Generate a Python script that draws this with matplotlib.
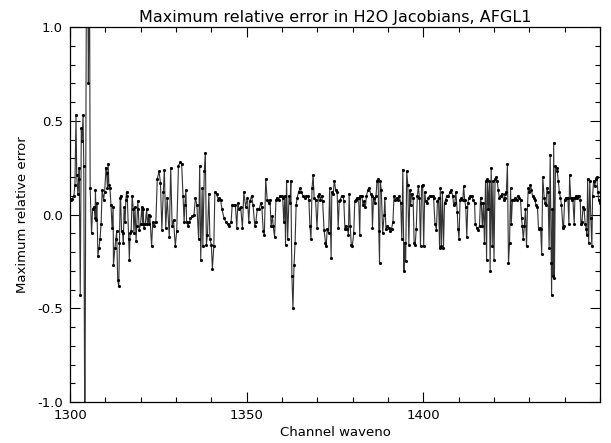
import numpy as np
import matplotlib
matplotlib.use("Agg")
import matplotlib.pyplot as plt
from matplotlib.ticker import MultipleLocator, FormatStrFormatter

# channel wavenumbers (cm-1) and max relative error
waveno = [
    1300.2, 1300.6, 1301.1, 1301.4, 1301.7, 1301.9, 1302.2, 1302.5, 1302.6, 1302.9,
    1303.2, 1303.4, 1303.7, 1303.9, 1304.2, 1304.7, 1305.0, 1305.2, 1305.5, 1305.7,
    1306.1, 1306.4, 1306.8, 1307.1, 1307.2, 1307.4, 1307.6, 1307.9, 1308.2, 1308.5,
    1308.8, 1309.1, 1309.5, 1309.8, 1310.2, 1310.4, 1310.6, 1310.8, 1311.0, 1311.3,
    1311.6, 1311.9, 1312.2, 1312.3, 1312.7, 1313.0, 1313.2, 1313.5, 1313.8, 1314.0,
    1314.2, 1314.3, 1314.6, 1314.9, 1315.1, 1315.3, 1315.6, 1315.8, 1316.0, 1316.2,
    1316.6, 1316.8, 1317.0, 1317.3, 1317.6, 1317.9, 1318.1, 1318.4, 1318.7, 1318.9,
    1319.2, 1319.3, 1319.6, 1320.0, 1320.3, 1320.6, 1320.7, 1320.9, 1321.3, 1321.7,
    1321.9, 1322.3, 1322.4,
    1322.6, 1323.1, 1323.4, 1323.8, 1324.3, 1324.7, 1325.2, 1325.6, 1326.0, 1326.4,
    1326.7, 1327.1, 1327.5, 1328.1, 1328.5, 1328.9, 1329.3, 1329.8, 1330.2, 1330.7,
    1331.2, 1331.6, 1332.0, 1332.3, 1332.5, 1332.8, 1333.0, 1333.4, 1333.8, 1334.1,
    1334.6, 1335.1, 1335.5, 1335.9, 1336.4, 1336.7, 1337.0, 1337.4, 1337.6, 1338.0,
    1338.3, 1338.6, 1338.9, 1339.3, 1339.6, 1340.0, 1340.3, 1340.7, 1341.0, 1341.5,
    1341.9, 1342.3, 1342.6, 1343.0, 1343.6, 1344.1, 1344.6, 1345.1, 1345.6, 1345.9,
    1346.4, 1346.8, 1347.2, 1347.5, 1347.9, 1348.3, 1348.8, 1349.2, 1349.7, 1350.2,
    1350.6, 1350.9, 1351.4, 1351.8, 1352.3, 1352.6, 1353.0, 1353.5, 1354.0, 1354.3,
    1354.7, 1355.0, 1355.4, 1355.8, 1356.2,
    1356.6, 1356.9, 1357.3, 1357.5, 1357.9, 1358.3, 1358.7, 1359.1, 1359.4, 1359.9,
    1360.2, 1360.5, 1360.8, 1361.0, 1361.3, 1361.6, 1362.0, 1362.3, 1362.5, 1362.8,
    1363.1, 1363.4, 1363.7, 1364.0, 1364.3, 1364.7, 1365.1, 1365.5, 1365.9, 1366.4,
    1366.8, 1367.3, 1367.6, 1367.9, 1368.2, 1368.5, 1368.8, 1369.1, 1369.5, 1369.9,
    1370.3, 1370.6, 1370.8, 1371.2, 1371.5, 1371.9, 1372.3, 1372.5, 1372.8, 1373.2,
    1373.5, 1373.9, 1374.1, 1374.5, 1374.8, 1375.2, 1375.6, 1375.9, 1376.2, 1376.5,
    1376.9, 1377.3, 1377.5, 1377.8, 1378.1, 1378.5, 1378.8, 1379.0, 1379.3, 1379.6,
    1379.9, 1380.3, 1380.6, 1380.9, 1381.3, 1381.7, 1382.0, 1382.2, 1382.6, 1382.9,
    1383.2, 1383.6, 1383.9, 1384.3, 1384.7, 1385.1, 1385.4, 1385.6, 1385.9, 1386.3,
    1386.6, 1386.9, 1387.2, 1387.4, 1387.6, 1387.8, 1388.1, 1388.5, 1388.9, 1389.1,
    1389.4, 1389.8, 1390.2,
    1390.6, 1391.0, 1391.4, 1391.7, 1392.1, 1392.5, 1392.9, 1393.2, 1393.6, 1393.9,
    1394.2, 1394.5, 1394.7, 1395.0, 1395.3, 1395.6, 1395.9, 1396.2, 1396.4, 1396.7,
    1397.1, 1397.4, 1397.7, 1398.0, 1398.3, 1398.6, 1398.9, 1399.2, 1399.5, 1399.8,
    1400.1, 1400.4, 1400.7, 1401.1, 1401.4, 1401.8, 1402.2, 1402.6, 1402.9, 1403.3,
    1403.7, 1404.0, 1404.3, 1404.6, 1404.8, 1405.1, 1405.4, 1405.7, 1406.0, 1406.3,
    1406.7, 1407.1, 1407.6, 1407.9, 1408.3, 1408.6, 1408.9, 1409.2, 1409.6, 1409.8,
    1410.1, 1410.4, 1410.8, 1411.2, 1411.4, 1411.7, 1412.0, 1412.3, 1412.6, 1412.9,
    1413.2, 1413.7, 1414.1, 1414.5, 1414.7, 1415.1, 1415.5, 1415.9, 1416.2, 1416.4,
    1416.7, 1417.0, 1417.3, 1417.6, 1417.9, 1418.1, 1418.4, 1418.7,
    1418.9, 1419.2, 1419.5, 1419.7, 1420.0, 1420.3, 1420.6, 1420.9, 1421.2, 1421.5,
    1421.9, 1422.3, 1422.7, 1423.0, 1423.2, 1423.5, 1423.8, 1424.1, 1424.4, 1424.7,
    1424.9, 1425.2, 1425.6, 1426.0, 1426.4, 1426.7, 1427.1, 1427.5, 1427.8, 1428.0,
    1428.3, 1428.6, 1428.9, 1429.2, 1429.5, 1429.7, 1430.0, 1430.3, 1430.6, 1430.9,
    1431.2, 1431.5, 1431.9, 1432.3, 1432.6, 1432.9, 1433.2, 1433.5, 1433.8, 1434.2,
    1434.5, 1434.7, 1435.0, 1435.3, 1435.6, 1435.9, 1436.2, 1436.3, 1436.5, 1436.7,
    1436.9, 1437.1, 1437.4, 1437.7, 1437.9, 1438.2, 1438.5, 1438.8, 1439.1, 1439.5,
    1439.7, 1440.0, 1440.3, 1440.6, 1440.9, 1441.2, 1441.4, 1441.7, 1442.0, 1442.3,
    1442.7, 1442.9, 1443.2, 1443.5, 1443.8, 1444.1, 1444.4, 1444.6, 1444.9, 1445.2,
    1445.5, 1445.8, 1446.1, 1446.3, 1446.5, 1446.8, 1447.1, 1447.4, 1447.7, 1447.9,
    1448.2, 1448.5, 1448.8, 1449.1, 1449.4, 1449.6, 1449.9,
]

max_rel_err = [
    0.08, 0.085, 0.10, 0.16, 0.53, 0.21, 0.11, 0.19, 0.25, -0.43,
    0.46, 0.39, 0.53, 0.26, -1.3, 1.6, 1.4, 0.70, 1.5, 0.14,
    -0.10, 0.03, 0.04, -0.02, 0.13, -0.03, 0.06, -0.22, -0.18, -0.13,
    -0.05, 0.13, 0.08, 0.12, 0.25, 0.22, 0.14, 0.27, 0.16, 0.14,
    0.05, -0.07, 0.04, -0.27, -0.18, -0.13, -0.09, -0.35, -0.38, -0.15,
    0.09, 0.10, -0.09, -0.10, -0.15, 0.04, -0.04, 0.08, 0.12, 0.10,
    -0.13, -0.24, -0.10, -0.09, 0.10, 0.03, -0.10, 0.04, -0.14, -0.06,
    0.07, 0.03, -0.08, -0.05, 0.04, -0.05, 0.03, -0.07, -0.05, 0.03,
    -0.05, 0.00, -0.05,
    -0.01, -0.17, -0.04, -0.06, -0.04, 0.19, 0.23, 0.17, -0.08, 0.12,
    0.24, -0.07, 0.09, -0.12, 0.25, -0.06, -0.03, -0.17, -0.09, 0.26,
    0.28, 0.27, 0.10, -0.04, 0.05, 0.13, -0.04, -0.06, -0.04, -0.02,
    -0.01, 0.00, 0.09, 0.05, -0.13, 0.26, -0.24, 0.14, -0.17, 0.23,
    0.33, -0.16, -0.11, 0.11, -0.13, -0.16, -0.29, -0.17, 0.12, 0.11,
    0.08, 0.09, 0.08, 0.03, -0.02, -0.04, -0.05, -0.06, -0.04, 0.05,
    0.05, 0.05, -0.07, 0.06, 0.03, 0.04, -0.07, 0.12, 0.04, 0.09,
    -0.04, 0.07, 0.10, 0.05, -0.06, -0.04, 0.03, 0.03, 0.06, 0.04,
    -0.09, -0.11, 0.19, 0.08, 0.06,
    0.08, -0.06, -0.01, -0.06, -0.12, 0.08, 0.09, 0.08, 0.10, 0.10,
    0.09, -0.04, 0.10, -0.16, 0.18, -0.13, 0.10, 0.06, 0.18, -0.33,
    -0.50, -0.27, -0.15, 0.05, 0.09, 0.12, 0.14, 0.12, 0.10, 0.09,
    0.10, 0.10, 0.08, -0.06, -0.13, 0.14, 0.21, 0.09, 0.08, -0.07,
    0.10, 0.11, 0.08, 0.10, 0.07, -0.08, -0.15, -0.17, -0.075, -0.10,
    0.14, -0.23, 0.12, 0.11, 0.18, 0.13, 0.12, -0.07, 0.07, 0.08,
    0.10, 0.10, 0.07, -0.075, -0.06, -0.075, -0.11, 0.11, -0.06, -0.16,
    -0.17, -0.10, 0.07, 0.08, 0.09, 0.09, -0.11, 0.10, 0.10, 0.05,
    0.07, 0.04, 0.10, 0.13, 0.14, 0.11, 0.10, -0.07, 0.09, 0.06,
    0.10, 0.18, 0.19, -0.09, -0.26, 0.18, 0.13, -0.10, 0.00, 0.09,
    -0.075, -0.06, -0.07,
    -0.09, -0.075, -0.04, 0.10, 0.08, 0.09, 0.08, 0.10, 0.06, -0.13,
    0.24, -0.30, -0.15, -0.25, 0.23, 0.16, -0.16, 0.13, 0.05, 0.11,
    0.09, -0.15, -0.16, -0.075, 0.10, 0.15, 0.09, -0.17, 0.15, 0.16,
    -0.17, 0.12, 0.07, 0.06, 0.09, 0.10, 0.10, 0.10, 0.09, -0.05,
    -0.08, 0.07, 0.09, -0.18, 0.14, -0.17, 0.12, -0.18, 0.06, 0.08,
    0.10, 0.10, 0.12, 0.13, 0.10, 0.05, 0.06, 0.12, 0.015, -0.075,
    -0.13, 0.08, 0.09, 0.08, 0.15, 0.08, 0.04, -0.12, 0.06, 0.09,
    0.10, 0.10, 0.08, 0.06, -0.05, -0.07, -0.08, -0.06, 0.09, 0.06,
    -0.06, 0.06, -0.15, 0.18, -0.24, 0.19, 0.03, 0.18,
    -0.30, 0.25, -0.17, 0.18, -0.24, 0.19, 0.20, 0.18, 0.13, 0.09,
    0.10, 0.11, 0.08, 0.09, 0.11, 0.12, 0.27, -0.26, -0.15, 0.14,
    -0.05, 0.08, 0.08, 0.09, 0.08, 0.10, 0.09, 0.08, -0.02, -0.06,
    -0.13, -0.06, 0.03, -0.17, 0.05, 0.14, 0.12, 0.16, 0.13, 0.10,
    0.09, 0.08, 0.05, 0.04, -0.075, -0.07, -0.075, -0.21, 0.20, 0.09,
    0.06, 0.05, 0.14, 0.12, -0.18, 0.32, -0.26, -0.43, 0.03, -0.33,
    0.38, -0.34, 0.26, 0.25, 0.23, 0.18, 0.12, 0.09, 0.05, -0.07,
    -0.06, 0.08, 0.09, 0.09, 0.09, -0.05, 0.21, 0.09, 0.08, 0.09,
    -0.05, 0.09, 0.10, 0.09, 0.10, 0.10, 0.08, -0.05, -0.04, 0.04,
    0.03, -0.05, -0.075, -0.11, 0.19, -0.15, 0.18, -0.02, -0.17, 0.10,
    0.18, 0.15, 0.19, 0.20, 0.12, 0.08, 0.06,
]

fig = plt.figure(figsize=(6.11, 4.43), dpi=100)
ax = fig.add_axes([70/611, 1 - 402/443, 530/611, 375/443])

ax.plot(waveno, max_rel_err, color="0.2", lw=0.8, marker=".", ms=2.5,
        mfc="black", mec="black")

ax.set_xlim(1300, 1450)
ax.set_ylim(-1.0, 1.0)
ax.xaxis.set_major_locator(MultipleLocator(50))
ax.xaxis.set_minor_locator(MultipleLocator(10))
ax.yaxis.set_major_locator(MultipleLocator(0.5))
ax.yaxis.set_minor_locator(MultipleLocator(0.1))
ax.yaxis.set_major_formatter(FormatStrFormatter("%.1f"))
ax.set_xticks([1300, 1350, 1400])

ax.tick_params(which="both", direction="in", top=True, right=True,
               labelsize=9.5, width=0.8, pad=5)
ax.tick_params(which="major", length=7)
ax.tick_params(which="minor", length=3.5)
for s in ax.spines.values():
    s.set_linewidth(0.9)

ax.set_title("Maximum relative error in H2O Jacobians, AFGL1", fontsize=11.5, pad=3.6)
ax.set_xlabel("Channel waveno", fontsize=9.5, labelpad=3)
ax.set_ylabel("Maximum relative error", fontsize=9.5, labelpad=6)

fig.savefig("out.png", dpi=100)
